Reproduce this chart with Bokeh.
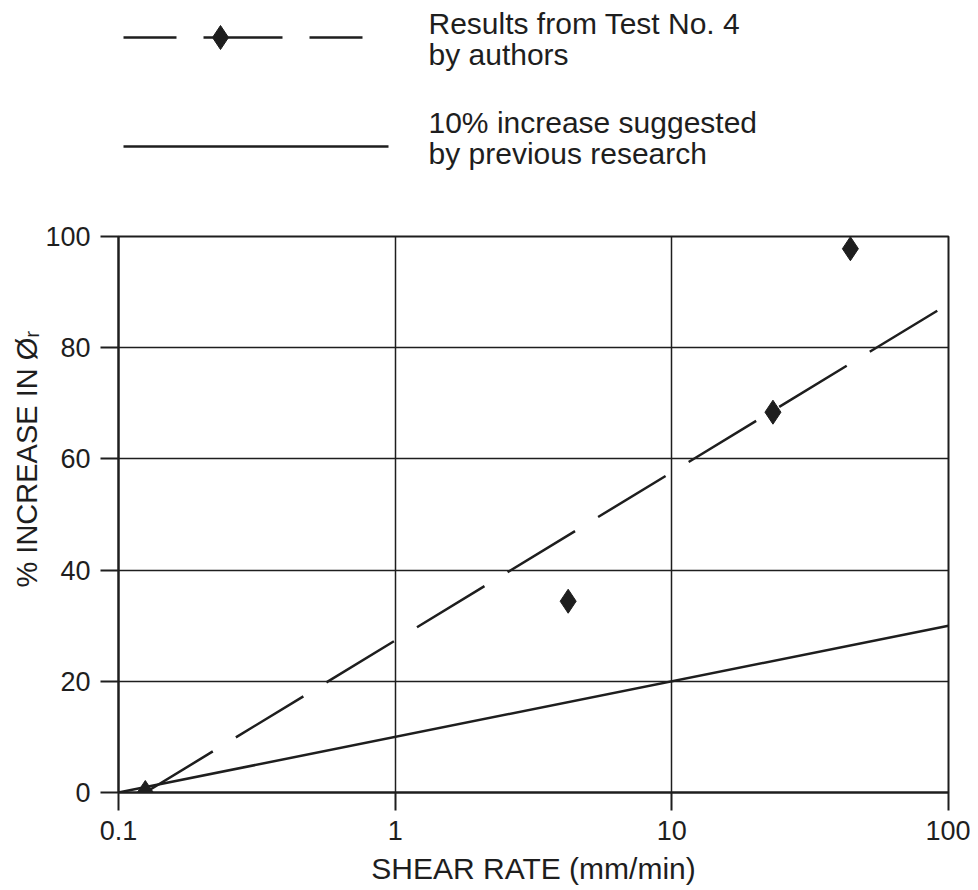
from bokeh.plotting import figure
from bokeh.models import Range1d, FixedTicker, Title
from bokeh.layouts import column
from bokeh.embed import file_html
from bokeh.resources import INLINE
from bokeh.core.properties import value

FONT = "Liberation Sans"
INK = "#1e1e1e"

# ---- data ----
test_rate = [0.125, 4.22, 23.2, 44.2]          # mm/min
test_increase = [0.0, 34.4, 68.4, 97.8]        # %
trend_rate = [0.125, 93.5]                     # dashed trend through test results
trend_increase = [0.0, 87.0]
prev_rate = [0.1, 100.0]                       # 10% per log-cycle (previous research)
prev_increase = [0.0, 30.0]
x_ticks = [0.1, 1, 10, 100]
x_tick_labels = ["0.1", "1", "10", "100"]
y_ticks = [0, 20, 40, 60, 80, 100]
legend_test = ["Results from Test No. 4", "by authors"]
legend_prev = ["10% increase suggested", "by previous research"]
x_title = "SHEAR RATE (mm/min)"
y_title = "% INCREASE IN \u00d8\u1d63"

W = 970
BL, BR = 118, 22


def bare(height):
    f = figure(width=W, height=height, x_range=Range1d(118, 948), y_range=Range1d(height, 0),
               x_axis_type=None, y_axis_type=None, toolbar_location=None,
               output_backend="svg", min_border_left=BL, min_border_right=BR,
               min_border_top=0, min_border_bottom=0, outline_line_color=None)
    return f


# ---- legend panel (drawn above the chart, pixel coordinates) ----
leg = bare(200)
leg.line([123, 388], [37, 37], line_dash="53 27 79 27", line_width=2.5, line_color=INK)
leg.scatter([220], [37], marker="diamond", size=24, fill_color=INK, line_color=INK)
leg.line([123, 388], [146, 146], line_width=2.5, line_color=INK)
leg.text(x=[428, 428, 428, 428], y=[23, 54, 122, 153],
         text=legend_test + legend_prev,
         text_font=value(FONT), text_font_size="30px",
         text_baseline="alphabetic", text_align="left", text_color=INK)

# ---- main chart ----
p = figure(width=W, height=648, x_axis_type="log",
           x_range=Range1d(0.1, 100), y_range=Range1d(0, 100),
           toolbar_location=None, output_backend="svg",
           min_border_left=BL, min_border_right=BR,
           min_border_top=36, min_border_bottom=56)

p.line(prev_rate, prev_increase, line_width=2.5, line_color=INK)
p.line(trend_rate, trend_increase, line_width=2.5, line_color=INK, line_dash="79 27")
p.scatter(test_rate, test_increase, marker="diamond", size=24, fill_color=INK, line_color=INK)

p.xaxis.ticker = FixedTicker(ticks=x_ticks)
p.xaxis.major_label_overrides = {t: l for t, l in zip(x_ticks, x_tick_labels)}
p.yaxis.ticker = FixedTicker(ticks=y_ticks)
p.xgrid.ticker = FixedTicker(ticks=x_ticks)
p.ygrid.ticker = FixedTicker(ticks=y_ticks)

for ax in (p.xaxis, p.yaxis):
    ax.axis_line_color = INK
    ax.axis_line_width = 2
    ax.major_tick_line_color = INK
    ax.major_tick_line_width = 2
    ax.major_tick_out = 18
    ax.major_tick_in = 0
    ax.minor_tick_line_color = None
    ax.major_label_text_font = FONT
    ax.major_label_text_font_size = "27px"
    ax.major_label_text_color = INK
    ax.major_label_standoff = 10

p.grid.grid_line_color = INK
p.grid.grid_line_width = 1.5
p.grid.grid_line_alpha = 1.0
p.outline_line_color = INK
p.outline_line_width = 2
p.outline_line_alpha = 1.0

p.add_layout(Title(text=y_title, align="left", offset=205, standoff=0,
                   text_font=FONT, text_font_size="29px", text_color=INK,
                   text_font_style="normal"), "left")

# ---- x-axis title strip ----
xt = bare(42)
xt.text(x=[533], y=[20], text=[x_title], text_font=value(FONT), text_font_size="30px",
        text_baseline="alphabetic", text_align="center", text_color=INK)

layout = column(leg, p, xt)
open("out.html", "w").write(file_html(layout, INLINE))
